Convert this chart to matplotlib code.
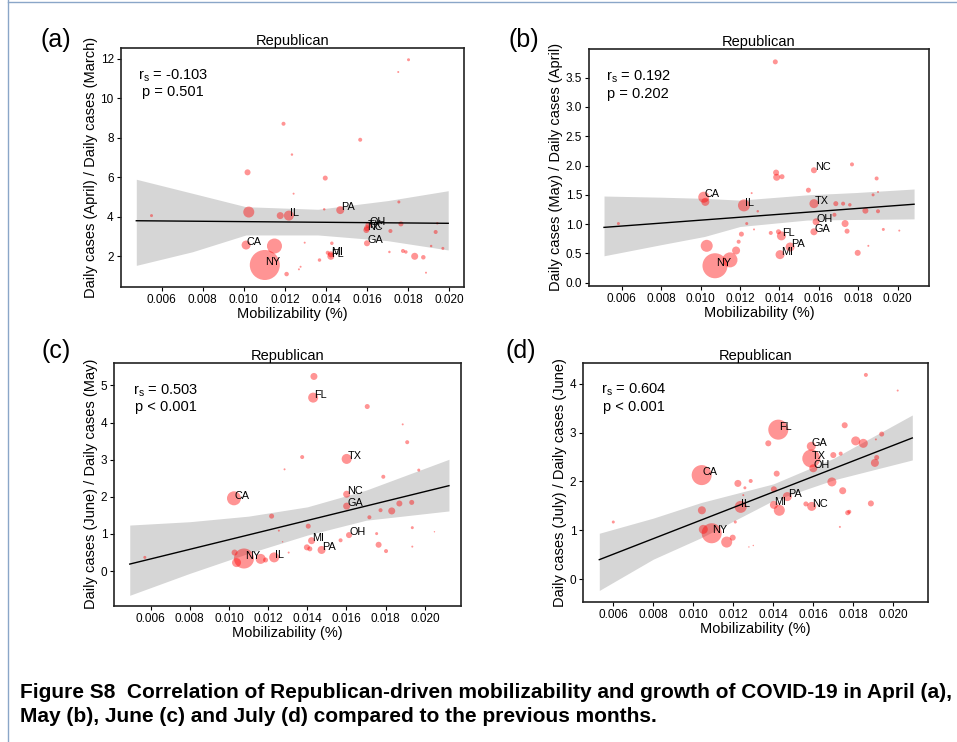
import numpy as np
import matplotlib.pyplot as plt
from matplotlib.lines import Line2D

plt.rcParams['font.family'] = ['Liberation Sans', 'DejaVu Sans']
plt.rcParams['mathtext.default'] = 'regular'

# ----------------------------- (a) April vs March -----------------------------
states_a = ['CA', 'NY', 'IL', 'PA', 'OH', 'TX', 'NC', 'GA', 'MI', 'FL'] + [''] * 33
mob_a = [0.01011, 0.01102, 0.01219, 0.01469, 0.01606, 0.01599, 0.01596, 0.01599, 0.01423, 0.01423,
         0.00551, 0.01018, 0.01024, 0.01149, 0.01177, 0.01208, 0.01242, 0.01193, 0.01234, 0.01396,
         0.01391, 0.01566, 0.01296, 0.01428, 0.01408, 0.01368, 0.01276, 0.01268, 0.01754, 0.01764,
         0.01713, 0.01708, 0.01774, 0.01788, 0.01831, 0.01873, 0.01886, 0.01911, 0.01968, 0.01933,
         0.01941, 0.01801, 0.01751]
ratio_a = [2.57, 1.56, 4.06, 4.34, 3.58, 3.42, 3.33, 2.66, 2.10, 2.00,
           4.06, 6.25, 4.24, 2.52, 4.06, 1.10, 5.17, 8.71, 7.15, 5.96,
           4.38, 7.90, 2.69, 2.66, 2.18, 1.81, 1.47, 1.34, 4.75, 3.64,
           3.28, 2.22, 2.27, 2.22, 2.00, 1.95, 1.17, 2.52, 2.40, 3.23,
           3.67, 11.95, 11.33]
weight_a = [81, 900, 100, 64, 36, 36, 36, 36, 36, 49,
            9, 36, 121, 225, 49, 20, 4, 16, 6, 25,
            6, 16, 4, 12, 16, 12, 4, 4, 9, 25,
            16, 6, 16, 12, 49, 20, 4, 6, 9, 16,
            6, 9, 4]
fit_x_a = [0.00477, 0.01994]
fit_y_a = [3.80, 3.67]
band_x_a = [0.00477, 0.0075, 0.0101, 0.0136, 0.0170, 0.01994]
band_hi_a = [5.90, 5.19, 4.51, 4.38, 4.82, 5.32]
band_lo_a = [1.54, 2.23, 3.08, 3.08, 2.79, 2.32]

# ----------------------------- (b) May vs April -----------------------------
states_b = ['CA', 'NY', 'IL', 'FL', 'PA', 'MI', 'NC', 'TX', 'OH', 'GA'] + [''] * 34
mob_b = [0.01016, 0.01073, 0.01220, 0.01410, 0.01454, 0.01403, 0.01575, 0.01575, 0.01586, 0.01575,
         0.00583, 0.01024, 0.01031, 0.01149, 0.01180, 0.01193, 0.01207, 0.01234, 0.01259, 0.01271,
         0.01290, 0.01356, 0.01383, 0.01386, 0.01413, 0.01395, 0.01379, 0.01547, 0.01686, 0.01679,
         0.01723, 0.01757, 0.01768, 0.01733, 0.01743, 0.01836, 0.01797, 0.01851, 0.01875, 0.01900,
         0.01893, 0.01900, 0.01927, 0.02008]
ratio_b = [1.46, 0.29, 1.32, 0.80, 0.61, 0.48, 1.92, 1.35, 1.04, 0.87,
           1.01, 1.38, 0.63, 0.39, 0.55, 0.70, 0.83, 1.01, 1.53, 0.91,
           1.22, 0.85, 1.88, 1.80, 1.81, 0.87, 3.77, 1.58, 1.35, 1.16,
           1.35, 1.33, 2.02, 1.01, 0.88, 1.23, 0.51, 0.63, 1.50, 1.55,
           1.78, 1.22, 0.91, 0.89]
weight_b = [121, 625, 144, 81, 81, 81, 36, 81, 49, 49,
            9, 64, 144, 225, 64, 16, 25, 9, 4, 4,
            6, 16, 36, 49, 25, 25, 25, 25, 25, 16,
            16, 12, 16, 49, 25, 36, 36, 4, 9, 4,
            16, 16, 9, 4]
fit_x_b = [0.0051, 0.02083]
fit_y_b = [0.945, 1.34]
band_x_b = [0.0051, 0.0080, 0.0102, 0.0120, 0.0154, 0.0179, 0.02083]
band_hi_b = [1.48, 1.46, 1.44, 1.41, 1.50, 1.54, 1.60]
band_lo_b = [0.46, 0.65, 0.79, 0.96, 1.07, 1.08, 1.09]

# ----------------------------- (c) June vs May -----------------------------
states_c = ['CA', 'NY', 'IL', 'MI', 'FL', 'PA', 'TX', 'NC', 'GA', 'OH'] + [''] * 32
mob_c = [0.01026, 0.01077, 0.01231, 0.01422, 0.01430, 0.01473, 0.01601, 0.01601, 0.01601, 0.01613,
         0.00571, 0.01029, 0.01039, 0.01162, 0.01187, 0.01218, 0.01255, 0.01274, 0.01284, 0.01305,
         0.01374, 0.01398, 0.01405, 0.01413, 0.01434, 0.01570, 0.01706, 0.01717, 0.01754, 0.01764,
         0.01774, 0.01788, 0.01802, 0.01831, 0.01870, 0.01887, 0.01910, 0.01933, 0.01936, 0.01936,
         0.01969, 0.02049]
ratio_c = [1.96, 0.34, 0.37, 0.82, 4.67, 0.57, 3.02, 2.07, 1.75, 0.97,
           0.37, 0.50, 0.23, 0.33, 0.30, 1.48, 1.09, 0.79, 2.74, 0.50,
           3.07, 0.64, 1.21, 0.60, 5.24, 0.83, 4.43, 1.45, 1.01, 0.71,
           1.64, 2.54, 0.54, 1.62, 1.82, 3.95, 3.47, 1.85, 1.17, 0.66,
           2.72, 1.06]
weight_c = [196, 400, 100, 49, 100, 64, 100, 49, 49, 36,
            9, 36, 81, 100, 25, 25, 4, 2, 4, 4,
            16, 36, 25, 25, 49, 16, 25, 16, 9, 36,
            16, 16, 16, 49, 36, 4, 16, 25, 9, 4,
            9, 2]
fit_x_c = [0.00494, 0.02123]
fit_y_c = [0.19, 2.30]
band_x_c = [0.00494, 0.0080, 0.0110, 0.0140, 0.0170, 0.02123]
band_hi_c = [1.24, 1.33, 1.48, 1.73, 2.18, 3.01]
band_lo_c = [-0.65, -0.06, 0.48, 0.97, 1.37, 1.62]

# ----------------------------- (d) July vs June -----------------------------
states_d = ['CA', 'NY', 'IL', 'MI', 'FL', 'PA', 'NC', 'GA', 'TX', 'OH'] + [''] * 34
mob_d = [0.01042, 0.01092, 0.01237, 0.01403, 0.01425, 0.01470, 0.01592, 0.01590, 0.01590, 0.01600,
         0.00600, 0.01043, 0.01050, 0.01167, 0.01197, 0.01210, 0.01223, 0.01250, 0.01258, 0.01287,
         0.01278, 0.01300, 0.01375, 0.01403, 0.01417, 0.01430, 0.01563, 0.01700, 0.01693, 0.01737,
         0.01733, 0.01757, 0.01747, 0.01772, 0.01780, 0.01812, 0.01850, 0.01863, 0.01888, 0.01913,
         0.01908, 0.01917, 0.01942, 0.02022]
ratio_d = [2.13, 0.94, 1.48, 1.52, 3.06, 1.69, 1.49, 2.72, 2.47, 2.27,
           1.17, 1.41, 1.02, 0.76, 0.85, 1.17, 1.96, 1.72, 1.87, 2.01,
           0.66, 0.69, 2.78, 1.84, 2.16, 1.41, 1.54, 2.54, 1.99, 2.57,
           1.07, 3.15, 1.81, 1.36, 1.38, 2.83, 2.78, 4.18, 1.55, 2.86,
           2.38, 2.49, 2.97, 3.86]
weight_d = [400, 400, 144, 64, 400, 81, 81, 81, 324, 64,
            9, 64, 81, 121, 36, 9, 49, 4, 9, 16,
            2, 2, 36, 36, 36, 121, 25, 36, 81, 16,
            4, 36, 49, 25, 16, 81, 81, 16, 36, 4,
            64, 25, 25, 4]
fit_x_d = [0.0053, 0.02095]
fit_y_d = [0.40, 2.89]
band_x_d = [0.0053, 0.0080, 0.0104, 0.0140, 0.0170, 0.02095]
band_hi_d = [0.94, 1.25, 1.57, 1.95, 2.47, 3.36]
band_lo_d = [-0.23, 0.41, 0.85, 1.61, 2.03, 2.44]

xticks = [0.006, 0.008, 0.010, 0.012, 0.014, 0.016, 0.018, 0.020]


def panel(ax, states, mob, ratio, weight, fit_x, fit_y, band_x, band_hi, band_lo,
          ylabel, stats, xlim, ylim, yticks, yfmt):
    ax.fill_between(band_x, band_lo, band_hi, color='#d6d6d6', lw=0, zorder=1)
    ax.scatter(mob, ratio, s=np.array(weight) * 0.52, color='red', alpha=0.42,
               linewidths=0, zorder=2)
    ax.plot(fit_x, fit_y, color='black', lw=1.0, zorder=3)
    for st, x, y in zip(states, mob, ratio):
        if st:
            ax.annotate(st, (x, y), xytext=(0.5, 2), textcoords='offset points',
                        ha='left', va='center', fontsize=7.8, zorder=4)
    ax.text(stats[0], stats[1], stats[2], transform=ax.transAxes, ha='center',
            va='center', multialignment='center', fontsize=10.5, linespacing=1.15)
    ax.set_xlim(*xlim)
    ax.set_ylim(*ylim)
    ax.set_xticks(xticks)
    ax.set_xticklabels(['%.3f' % t for t in xticks])
    ax.set_yticks(yticks)
    ax.set_yticklabels([yfmt % t for t in yticks])
    ax.tick_params(labelsize=8.5, length=3, width=0.8, pad=2)
    ax.set_title('Republican', fontsize=10.5, pad=2)
    ax.set_xlabel('Mobilizability (%)', fontsize=10.5, labelpad=1)
    ax.set_ylabel(ylabel, fontsize=10.5, labelpad=2)
    for sp in ax.spines.values():
        sp.set_linewidth(1.2)
        sp.set_color('#222222')


fig = plt.figure(figsize=(9.57, 7.42), dpi=100)

# page frame around the figure
fig.add_artist(Line2D([8 / 957, 8 / 957], [0, 1], color='#8aa6c8', lw=1.0))
fig.add_artist(Line2D([8 / 957, 1], [1 - 2 / 742, 1 - 2 / 742], color='#8aa6c8', lw=1.0))

ax_a = fig.add_axes([0.1261, 0.6136, 0.3590, 0.3221])
panel(ax_a, states_a, mob_a, ratio_a, weight_a, fit_x_a, fit_y_a, band_x_a, band_hi_a, band_lo_a,
      'Daily cases (April) / Daily cases (March)', (0.151, 0.851, 'r$_{s}$ = -0.103\np = 0.501'),
      (0.00401, 0.02072), (0.46, 12.56), [2, 4, 6, 8, 10, 12], '%d')

ax_b = fig.add_axes([0.6155, 0.6150, 0.3553, 0.3190])
panel(ax_b, states_b, mob_b, ratio_b, weight_b, fit_x_b, fit_y_b, band_x_b, band_hi_b, band_lo_b,
      'Daily cases (May) / Daily cases (April)', (0.145, 0.849, 'r$_{s}$ = 0.192\np = 0.202'),
      (0.00434, 0.02159), (-0.05, 3.99), [0, 0.5, 1.0, 1.5, 2.0, 2.5, 3.0, 3.5], '%.1f')

ax_c = fig.add_axes([0.1194, 0.1837, 0.3620, 0.3275])
panel(ax_c, states_c, mob_c, ratio_c, weight_c, fit_x_c, fit_y_c, band_x_c, band_hi_c, band_lo_c,
      'Daily cases (June) / Daily cases (May)', (0.149, 0.853, 'r$_{s}$ = 0.503\np < 0.001'),
      (0.00415, 0.02183), (-0.93, 5.61), [0, 1, 2, 3, 4, 5], '%d')

ax_d = fig.add_axes([0.6095, 0.1891, 0.3605, 0.3221])
panel(ax_d, states_d, mob_d, ratio_d, weight_d, fit_x_d, fit_y_d, band_x_d, band_hi_d, band_lo_d,
      'Daily cases (July) / Daily cases (June)', (0.146, 0.852, 'r$_{s}$ = 0.604\np < 0.001'),
      (0.0045, 0.02175), (-0.46, 4.43), [0, 1, 2, 3, 4], '%d')

# panel letters
for lab, px, py in [('(a)', 56, 40), ('(b)', 524, 40), ('(c)', 56, 351), ('(d)', 521, 351)]:
    fig.text(px / 957, 1 - py / 742, lab, fontsize=18, ha='center', va='center')

# caption
fig.text(20 / 957, 1 - 693 / 742,
         'Figure S8  Correlation of Republican-driven mobilizability and growth of COVID-19 in April (a),',
         fontsize=15, weight='bold', va='center', ha='left')
fig.text(20 / 957, 1 - 717 / 742,
         'May (b), June (c) and July (d) compared to the previous months.',
         fontsize=15, weight='bold', va='center', ha='left')

fig.savefig('out.png', dpi=100)
